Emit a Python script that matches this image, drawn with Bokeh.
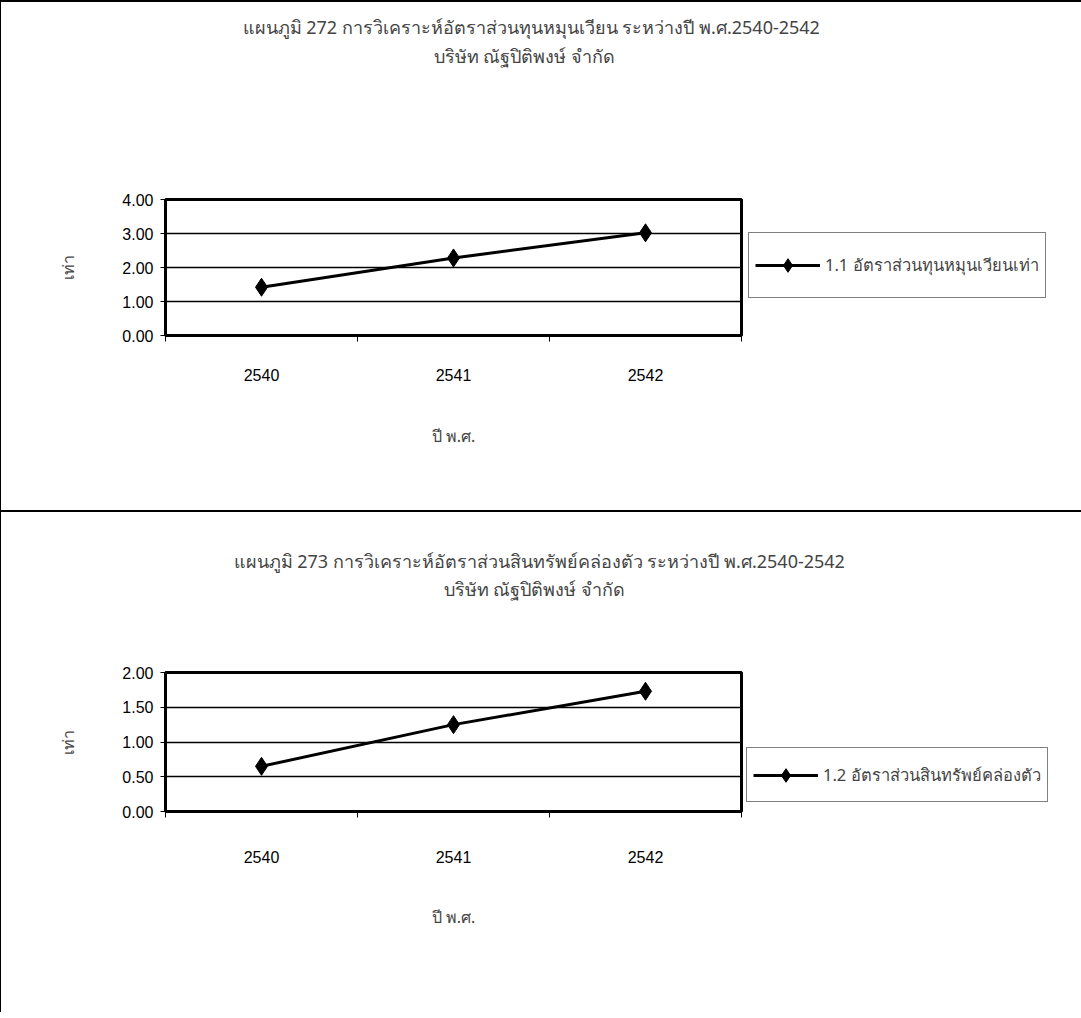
from bokeh.plotting import figure
from bokeh.models import (FixedTicker, NumeralTickFormatter, Legend, LegendItem, Range1d, Title)
from bokeh.layouts import column
from bokeh.embed import file_html
from bokeh.resources import INLINE

# ---- data ----
years = ["2540", "2541", "2542"]
working_capital_ratio = [1.42, 2.28, 3.02]
quick_ratio = [0.65, 1.25, 1.73]
y_ticks_1 = [0, 1, 2, 3, 4]
y_ticks_2 = [0, 0.5, 1.0, 1.5, 2.0]

title_1 = "แผนภูมิ 272  การวิเคราะห์อัตราส่วนทุนหมุนเวียน ระหว่างปี พ.ศ.2540-2542"
title_2 = "แผนภูมิ 273  การวิเคราะห์อัตราส่วนสินทรัพย์คล่องตัว ระหว่างปี พ.ศ.2540-2542"
subtitle = "บริษัท ณัฐปิติพงษ์ จำกัด"
series_1 = "1.1 อัตราส่วนทุนหมุนเวียนเท่า"
series_2 = "1.2 อัตราส่วนสินทรัพย์คล่องตัว"
y_label = "เท่า"
x_label = "ปี พ.ศ."

TOTAL_W = 1079
NUM_FONT = "Liberation Sans"
THAI_FONT = "Noto Sans"


def make_chart(title_text, values, series_label, y_ticks, fig_h, frame_top, frame_bottom,
               frame_left, frame_right, main_offset, sub_offset, sub_pad_lines, sub_line_h,
               sub_standoff, main_standoff, legend_pos, legend_lh,
               xlab_standoff, xtitle_standoff):
    n = len(years)
    centers = [i + 0.5 for i in range(n)]
    p = figure(frame_width=frame_right - frame_left, frame_height=frame_bottom - frame_top,
               output_backend="svg", toolbar_location=None,
               x_range=Range1d(0, n), y_range=Range1d(y_ticks[0], y_ticks[-1]),
               min_border_left=frame_left, min_border_right=TOTAL_W - frame_right,
               min_border_top=frame_top, min_border_bottom=fig_h - frame_bottom,
               background_fill_color="white", border_fill_color="white",
               styles={"border-top": "2px solid black", "border-left": "1px solid black"})
    # main title (outer slot)
    p.title.text = title_text
    p.title.align = "left"
    p.title.offset = main_offset
    p.title.text_font = THAI_FONT
    p.title.text_font_size = "18px"
    p.title.text_font_style = "normal"
    p.title.standoff = main_standoff
    # subtitle (inner slot, padded downward with blank lines to keep it away from the plot)
    sub = Title(text=subtitle + "\n" * sub_pad_lines, align="left", offset=sub_offset,
                text_font=THAI_FONT, text_font_size="18px", text_font_style="normal",
                text_line_height=sub_line_h, standoff=sub_standoff)
    p.add_layout(sub, "above")

    p.outline_line_color = "black"
    p.outline_line_width = 3

    # x axis
    xa = p.xaxis[0]
    xa.ticker = FixedTicker(ticks=centers, minor_ticks=list(range(n + 1)))
    xa.major_label_overrides = {c: y for c, y in zip(centers, years)}
    xa.major_tick_out = 0
    xa.major_tick_in = 0
    xa.minor_tick_out = 6
    xa.minor_tick_in = 0
    xa.minor_tick_line_color = "black"
    xa.axis_line_color = "black"
    xa.axis_line_width = 2
    xa.major_label_standoff = xlab_standoff
    xa.major_label_text_font = NUM_FONT
    xa.major_label_text_font_size = "16px"
    xa.major_label_text_color = "black"
    xa.axis_label = x_label
    xa.axis_label_text_font = THAI_FONT
    xa.axis_label_text_font_size = "16px"
    xa.axis_label_text_font_style = "normal"
    xa.axis_label_standoff = xtitle_standoff

    # y axis
    ya = p.yaxis[0]
    ya.ticker = FixedTicker(ticks=y_ticks, minor_ticks=[])
    ya.formatter = NumeralTickFormatter(format="0.00")
    ya.major_tick_out = 5
    ya.major_tick_in = 0
    ya.major_tick_line_color = "black"
    ya.axis_line_color = "black"
    ya.axis_line_width = 2
    ya.major_label_standoff = 7
    ya.major_label_text_font = NUM_FONT
    ya.major_label_text_font_size = "16px"
    ya.major_label_text_color = "black"
    ya.axis_label = y_label
    ya.axis_label_text_font = THAI_FONT
    ya.axis_label_text_font_size = "16px"
    ya.axis_label_text_font_style = "normal"
    ya.axis_label_standoff = 40

    p.xgrid.visible = False
    p.ygrid.ticker = FixedTicker(ticks=y_ticks, minor_ticks=[])
    p.ygrid.grid_line_color = "black"
    p.ygrid.grid_line_width = 1.5

    r1 = p.line(x=centers, y=values, line_color="black", line_width=3)
    r2 = p.scatter(x=centers, y=values, marker="diamond", size=18,
                   fill_color="black", line_color="black")

    legend = Legend(items=[LegendItem(label=series_label, renderers=[r1, r2])],
                    location=legend_pos, orientation="vertical")
    legend.border_line_color = "black"
    legend.border_line_width = 1.5
    legend.background_fill_color = "white"
    legend.background_fill_alpha = 1
    legend.margin = 0
    legend.padding = 6
    legend.glyph_width = 65
    legend.glyph_height = 34
    legend.label_height = legend_lh
    legend.label_standoff = 5
    legend.label_text_font = THAI_FONT
    legend.label_text_font_size = "16.5px"
    legend.label_text_baseline = "middle"
    p.add_layout(legend, "right")
    return p


p1 = make_chart(title_1, working_capital_ratio, series_1, y_ticks_1,
                fig_h=508, frame_top=197, frame_bottom=331, frame_left=162, frame_right=737,
                main_offset=77, sub_offset=268, sub_pad_lines=5, sub_line_h=1.06,
                sub_standoff=8, main_standoff=0,
                legend_pos=(7, 37), legend_lh=52, xlab_standoff=27, xtitle_standoff=41)
p2 = make_chart(title_2, quick_ratio, series_2, y_ticks_2,
                fig_h=500, frame_top=160, frame_bottom=297, frame_left=164, frame_right=739,
                main_offset=68, sub_offset=278, sub_pad_lines=3, sub_line_h=1.0,
                sub_standoff=0, main_standoff=4,
                legend_pos=(5, 9), legend_lh=41, xlab_standoff=33, xtitle_standoff=40)

layout = column(p1, p2, spacing=0)
open("out.html", "w").write(file_html(layout, INLINE))
